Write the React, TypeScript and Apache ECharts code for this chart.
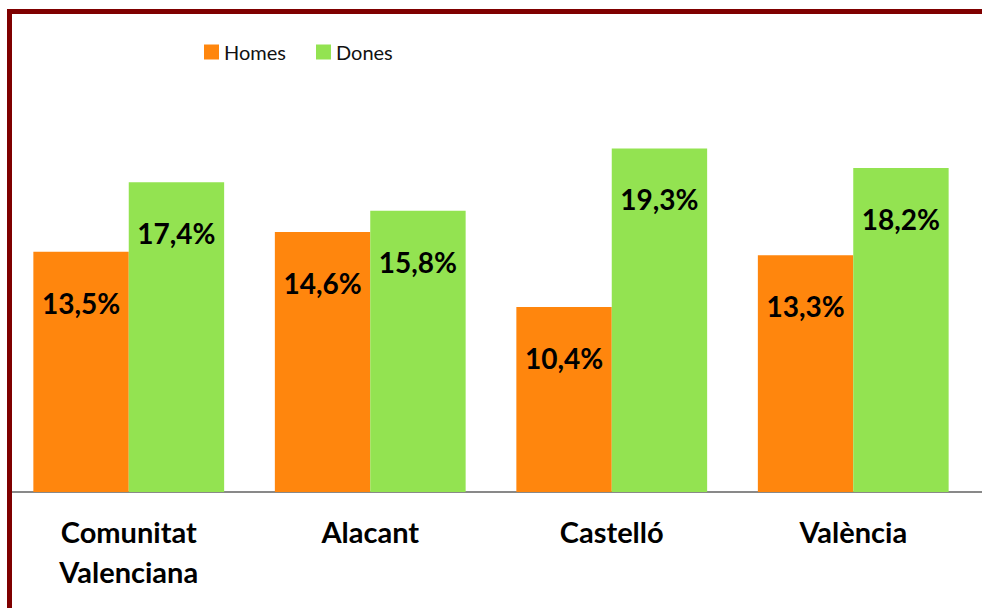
import React, { useEffect, useRef } from "react";
import * as echarts from "echarts";

const categories = ["Comunitat\nValenciana", "Alacant", "Castelló", "València"];
const homes = [13.5, 14.6, 10.4, 13.3];
const dones = [17.4, 15.8, 19.3, 18.2];
const seriesNames = ["Homes", "Dones"];

const FONT = "Lato, 'Open Sans', 'DejaVu Sans', sans-serif";

export default function App() {
  const ref = useRef<HTMLDivElement>(null);
  useEffect(() => {
    if (!ref.current) return;
    const chart = echarts.init(ref.current, null, { renderer: "svg" });
    const label = {
      show: true,
      position: "insideTop",
      distance: 37,
      formatter: (p: any) => p.value.toFixed(1).replace(".", ",") + "%",
      fontFamily: FONT,
      fontWeight: "bold",
      fontSize: 28,
      color: "#000",
    };
    chart.setOption({
      animation: false,
      backgroundColor: "#fff",
      grid: { left: 8, right: 8, top: 47, bottom: 116, containLabel: false },
      legend: {
        left: 199,
        top: 37,
        itemWidth: 15,
        itemHeight: 15,
        itemGap: 30,
        icon: "rect",
        textStyle: { fontFamily: FONT, fontSize: 20, color: "#111" },
        data: seriesNames,
      },
      xAxis: {
        type: "category",
        data: categories,
        axisLine: { lineStyle: { color: "#898989", width: 2 } },
        axisTick: { show: false },
        axisLabel: {
          fontFamily: FONT,
          fontWeight: "bold",
          fontSize: 29,
          color: "#000",
          lineHeight: 40,
          margin: 19,
          interval: 0,
        },
      },
      yAxis: {
        type: "value",
        min: 0,
        max: 25,
        show: false,
        splitLine: { show: false },
      },
      series: [
        {
          name: seriesNames[0],
          type: "bar",
          data: homes,
          barGap: "0%",
          barCategoryGap: "21%",
          itemStyle: { color: "#FF860D" },
          label,
        },
        {
          name: seriesNames[1],
          type: "bar",
          data: dones,
          barGap: "0%",
          barCategoryGap: "21%",
          itemStyle: { color: "#93E351" },
          label,
        },
      ],
      graphic: [
        {
          type: "line",
          shape: { x1: 12, y1: 492, x2: 982, y2: 492 },
          style: { stroke: "#898989", lineWidth: 2 },
          z: -1,
        },
        {
          type: "rect",
          shape: { x: 9.5, y: 11.5, width: 1000, height: 700 },
          style: { fill: "none", stroke: "#7F0000", lineWidth: 5 },
          z: 100,
        },
      ],
    });
    return () => chart.dispose();
  }, []);
  return (
    <div
      ref={ref}
      style={{ position: "fixed", left: 0, top: 0, width: 982, height: 608 }}
    />
  );
}
